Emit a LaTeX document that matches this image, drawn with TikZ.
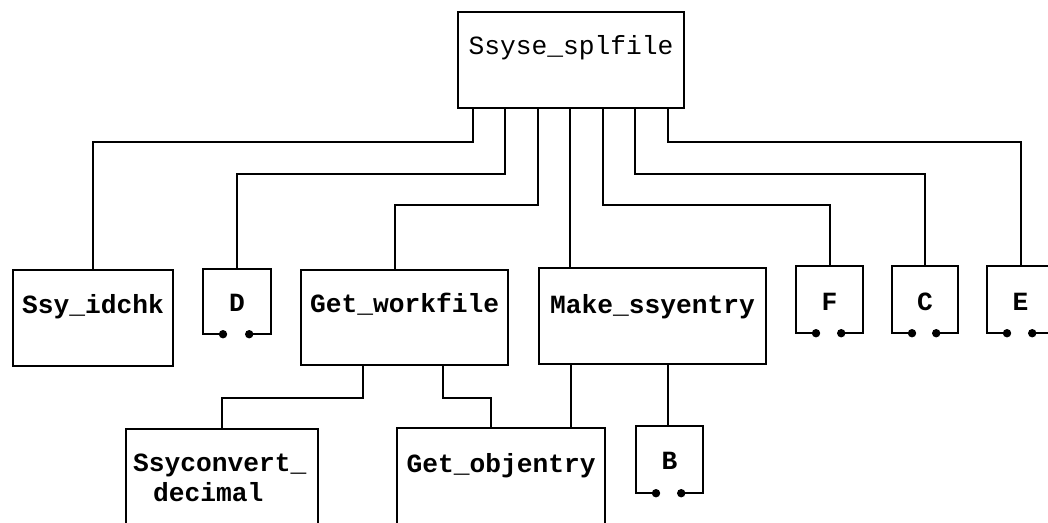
\documentclass[tikz,border=0pt]{standalone}
\usepackage{fontspec}
\newfontfamily\boxmono{Liberation Mono}
\usetikzlibrary{calc}
\newcommand\boldfnt{\boxmono\bfseries\fontsize{26.25}{30}\selectfont}
\newcommand\topfnt{\boxmono\fontsize{26.25}{30}\selectfont}
\tikzset{
  box/.style={draw, line width=2.2pt, inner sep=0pt, anchor=north west,
    font=\boldfnt},
  openbox/.style={box, draw=none},
  wire/.style={line width=2.2pt},
  dot/.style={fill=black}
}
\begin{document}
\begin{tikzpicture}[x=1pt,y=-1pt]
\useasboundingbox (0,0) rectangle (1048,522);
\fill[white] (0,0) rectangle (1048,522);
\clip (0,0) rectangle (1048,522);

% top
\node[box, font=\topfnt, minimum width=226pt, text height=42.5pt, text depth=54pt] (top) at (457,10.5) {Ssyse\_splfile};

% row 2
\node[box, minimum width=160pt, text height=43pt, text depth=53pt] (idchk) at (12,269) {Ssy\_idchk};
\node[openbox, minimum width=66pt, text height=41pt, text depth=22pt] (D) at (203,269) {D};
\node[box, minimum width=207pt, text height=42pt, text depth=53pt] (getwork) at (300,269) {Get\_workfile};
\node[box, minimum width=227pt, text height=45pt, text depth=51pt] (make) at (538,267) {Make\_ssyentry};
\node[openbox, minimum width=65pt, text height=43pt, text depth=22pt] (F) at (796,266) {F};
\node[openbox, minimum width=64pt, text height=43pt, text depth=22pt] (C) at (892,266) {C};
\node[openbox, minimum width=65pt, text height=43pt, text depth=22pt] (E) at (987,266) {E};

% row 3
\node[box, minimum width=192pt, minimum height=150pt] (sc) at (125,428) {};
\node[anchor=base west, inner sep=0pt, font=\boldfnt] (sc1) at (133,471) {Ssyconvert\_};
\node[anchor=base west, inner sep=0pt, font=\boldfnt] (sc2) at (153,501) {decimal};
\node[box, minimum width=208pt, text height=44pt, text depth=100pt] (getobj) at (396,427) {Get\_objentry};
\node[openbox, minimum width=65pt, text height=42pt, text depth=23pt] (B) at (636,426) {B};

% open boxes
\foreach \n in {D,F,C,E,B}{
  \draw[wire] ($(\n.south west)+(20,0)$) -- (\n.south west) -- (\n.north west)
     -- (\n.north east) -- (\n.south east) -- ($(\n.south east)+(-22,0)$);
  \fill[dot] ($(\n.south west)+(20,0)$) circle (4.2pt);
  \fill[dot] ($(\n.south east)+(-22,0)$) circle (4.2pt);
}

% connectors from top
\draw[wire] ($(top.south west)+(16,0)$) -- ++(0,33) -| (idchk.north);
\draw[wire] ($(top.south west)+(48,0)$) -- ++(0,65) -| (D.north);
\draw[wire] ($(top.south west)+(81,0)$) -- ++(0,96) -| ($(getwork.north west)+(95,0)$);
\draw[wire] ($(top.south west)+(113,0)$) coordinate (m1) -- (m1 |- make.north);
\draw[wire] ($(top.south west)+(146,0)$) -- ++(0,96) -| (F.north);
\draw[wire] ($(top.south west)+(178,0)$) -- ++(0,65) -| (C.north);
\draw[wire] ($(top.south west)+(211,0)$) -- ++(0,33) -| (E.north);

% connectors row 2 -> row 3
\draw[wire] ($(getwork.south west)+(63,0)$) -- ++(0,32) -| (sc.north);
\draw[wire] ($(getwork.south west)+(143,0)$) -- ++(0,32) -| ($(getobj.north west)+(95,0)$);
\draw[wire] ($(make.south west)+(33,0)$) coordinate (m2) -- (m2 |- getobj.north);
\draw[wire] ($(make.south west)+(130,0)$) coordinate (m3) -- (m3 |- B.north);
\end{tikzpicture}
\end{document}
